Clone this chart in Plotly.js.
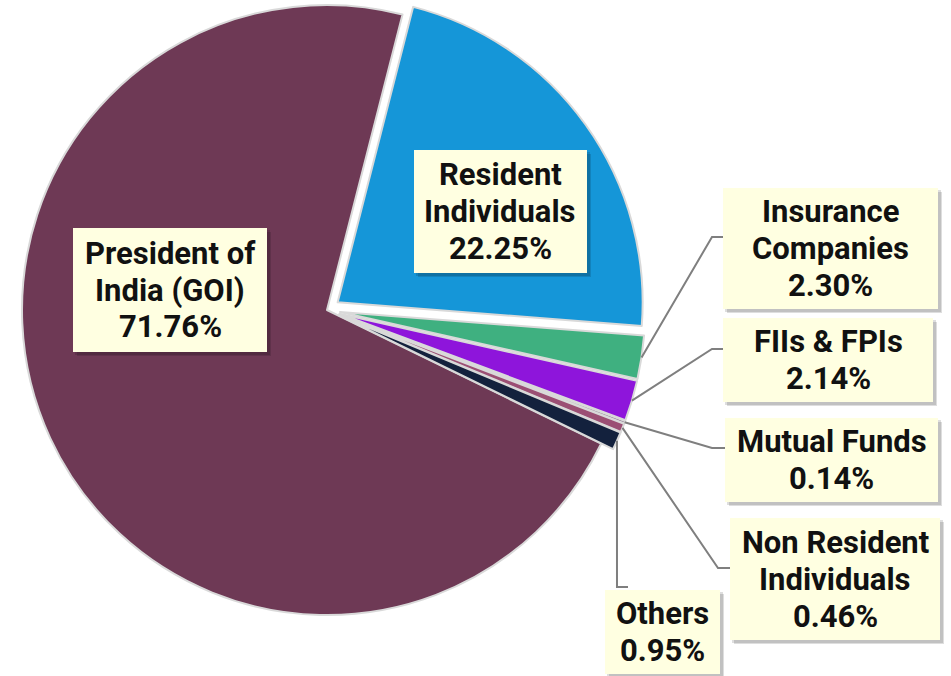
<!DOCTYPE html>
<html>
<head>
<meta charset="utf-8">
<script src="https://cdn.plot.ly/plotly-3.0.1.min.js"></script>
<style>
  body { margin: 0; overflow: hidden; background: #ffffff; }
  #pie-plot { position: absolute; left: 0; top: -10px; width: 951px; height: 686px; }
</style>
</head>
<body>
<div id="pie-plot"></div>
<script>
// Shareholding pattern data
const labels = [
  "President of India (GOI)",
  "Resident Individuals",
  "Insurance Companies",
  "FIIs & FPIs",
  "Mutual Funds",
  "Non Resident Individuals",
  "Others"
];
// how each label wraps inside its box
const labelLines = [
  ["President of", "India (GOI)"],
  ["Resident", "Individuals"],
  ["Insurance", "Companies"],
  ["FIIs &amp; FPIs"],
  ["Mutual Funds"],
  ["Non Resident", "Individuals"],
  ["Others"]
];
const values = [71.76, 22.25, 2.30, 2.14, 0.14, 0.46, 0.95];
const colors = ["#6E3955", "#1596D8", "#3FB080", "#8E15DB", "#7F6A86", "#9B4F74", "#13213D"];
const pulls = [0, 0.043, 0.043, 0.043, 0.043, 0.043, 0.043];

// page geometry (screen px)
const W = 951, H = 686, OFF = 10;
const CX = 327, CY = 310, R = 305, ROT = 116;
const MAXPULL = Math.max(...pulls);
const FONT_SIZE = 31, LINE_GAP = 37;

// screen px -> paper coords
function P(x, y) {
  return [x / W, 1 - (y + OFF) / H];
}

// label boxes: center x, center y, width, height
const boxes = [
  [170, 290, 194, 124],
  [500.5, 211.5, 173, 123],
  [830.5, 248.5, 215, 121],
  [828, 360, 210, 84],
  [831.5, 460, 213, 84],
  [835, 579, 210, 122],
  [662.5, 632, 115, 84]
];
// leader line elbow and end (null = no leader)
const leaders = [
  null,
  null,
  [[712, 237], [723, 237]],
  [[712, 349], [723, 349]],
  [[712, 448], [725, 448]],
  [[718, 568], [730, 568]],
  [[617, 587], [628, 587]]
];

function rectShape(x0, y0, x1, y1, fill) {
  const a = P(x0, y0), b = P(x1, y1);
  return {
    type: "rect", xref: "paper", yref: "paper", layer: "above",
    x0: a[0], y0: a[1], x1: b[0], y1: b[1],
    fillcolor: fill, line: { width: 0 }
  };
}

function buildBoxShapes() {
  const shadows = [], fills = [];
  boxes.forEach(([bx, by, bw, bh]) => {
    shadows.push(rectShape(bx - bw / 2 + 4, by - bh / 2 + 4, bx + bw / 2 + 4, by + bh / 2 + 4, "rgba(0,0,0,0.13)"));
    shadows.push(rectShape(bx - bw / 2 + 2, by - bh / 2 + 2, bx + bw / 2 + 3, by + bh / 2 + 3, "rgba(0,0,0,0.13)"));
    fills.push(rectShape(bx - bw / 2, by - bh / 2, bx + bw / 2, by + bh / 2, "#FFFFE1"));
  });
  return shadows.concat(fills);
}

function buildAnnotations() {
  const out = [];
  labels.forEach((lab, i) => {
    const [bx, by] = boxes[i];
    const lines = labelLines[i].concat([values[i].toFixed(2) + "%"]);
    const n = lines.length;
    lines.forEach((t, k) => {
      const [px, py] = P(bx, by + (k - (n - 1) / 2) * LINE_GAP);
      out.push({
        xref: "paper", yref: "paper", x: px, y: py,
        xanchor: "center", yanchor: "middle",
        showarrow: false, text: t, borderpad: 0,
        font: { family: "Roboto", size: FONT_SIZE, weight: 700, color: "#111111" }
      });
    });
  });
  return out;
}

function buildLeaders() {
  const total = values.reduce((a, b) => a + b, 0);
  const shapes = [];
  let cum = 0;
  values.forEach((v, i) => {
    const mid = ROT + (cum + v / 2) / total * 360;
    cum += v;
    if (!leaders[i]) return;
    const a = mid * Math.PI / 180;
    const rr = R * (1 + pulls[i]);
    const sx = CX + rr * Math.sin(a);
    const sy = CY - rr * Math.cos(a);
    const pts = [[sx, sy], leaders[i][0], leaders[i][1]].map(p => P(p[0], p[1]));
    const path = "M" + pts.map(p => p[0] + "," + p[1]).join(" L");
    shapes.push({
      type: "path", xref: "paper", yref: "paper", layer: "above", path: path,
      line: { color: "#7F7F7F", width: 2 }
    });
  });
  return shapes;
}

const half = R * (1 + MAXPULL);
const trace = {
  type: "pie",
  labels: labels,
  values: values,
  sort: false,
  direction: "clockwise",
  rotation: ROT,
  pull: pulls,
  textinfo: "none",
  hoverinfo: "label+percent",
  marker: { colors: colors, line: { color: "#D9D9D9", width: 2 } },
  domain: {
    x: [(CX - half - 2) / W, (CX + half + 2) / W],
    y: [1 - (CY + OFF + half) / H, 1 - (CY + OFF - half) / H]
  }
};

const layout = {
  width: W,
  height: H,
  margin: { l: 0, r: 0, t: 0, b: 0 },
  showlegend: false,
  paper_bgcolor: "#ffffff",
  annotations: buildAnnotations(),
  shapes: buildLeaders().concat(buildBoxShapes())
};

Plotly.newPlot("pie-plot", [trace], layout, { displayModeBar: false, staticPlot: true });
</script>
</body>
</html>
